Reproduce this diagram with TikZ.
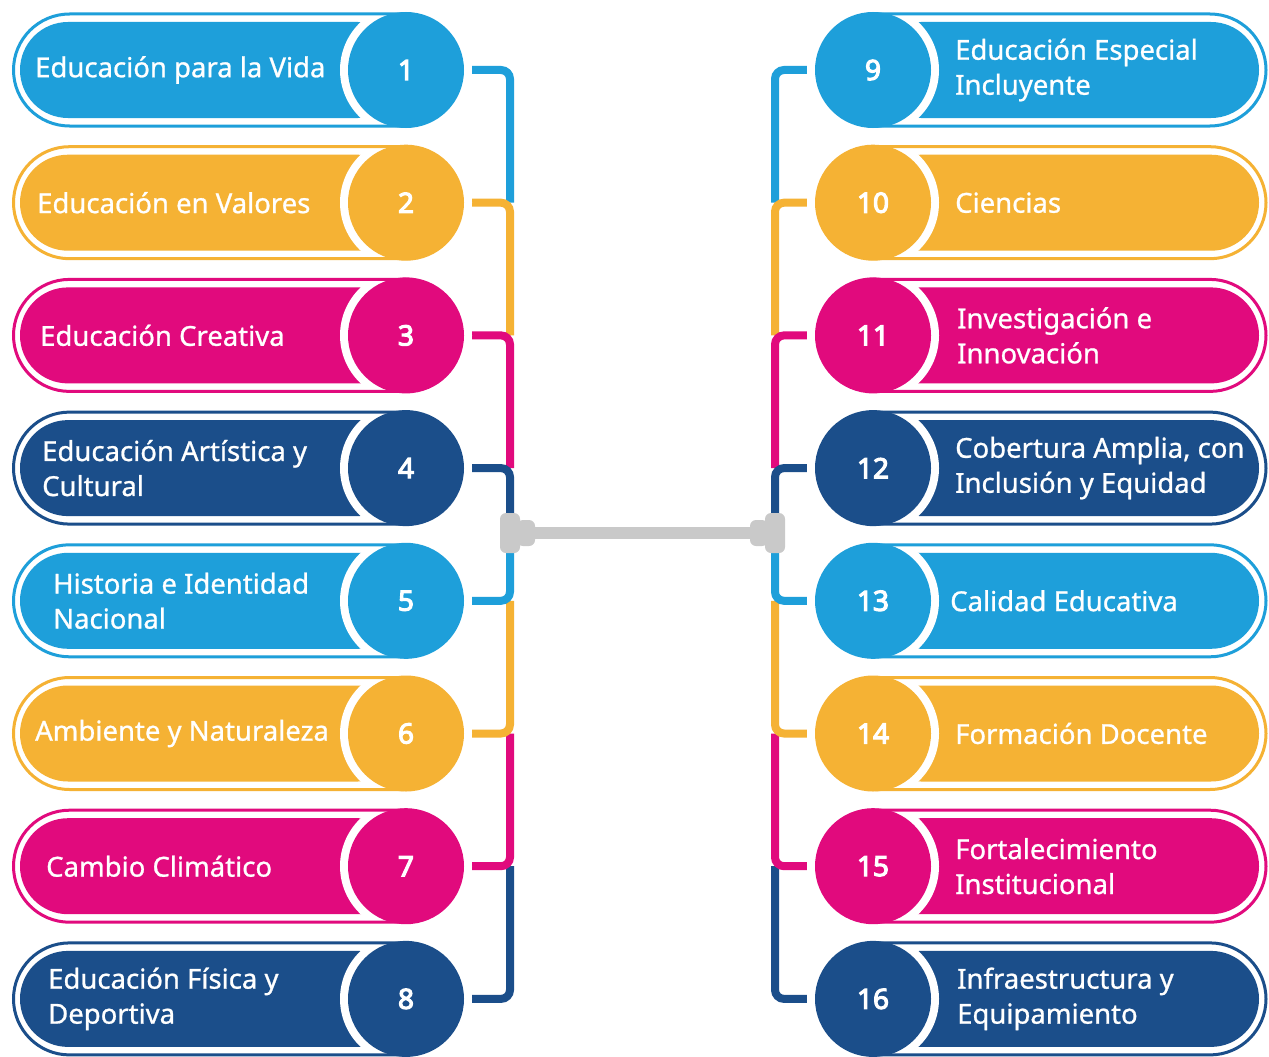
\documentclass[tikz,border=0pt]{standalone}
\usepackage{fontspec}
\setmainfont{Noto Sans}
\newfontfamily\lblfont{Noto Sans}[FakeBold=0.9]
\newfontfamily\numfont{Noto Sans}[FakeBold=4]
\usetikzlibrary{backgrounds}
\definecolor{cLB}{HTML}{1E9FDA}
\definecolor{cOR}{HTML}{F5B234}
\definecolor{cPK}{HTML}{E10A7D}
\definecolor{cDB}{HTML}{1B4E8A}
\definecolor{cGR}{HTML}{C9C9C9}
\newcommand\LRow[5]{%
  \fill[#3, rounded corners=48pt] (20,#2-48) rectangle (406,#2+48);
  \fill[white] (406,#2) circle[radius=66pt];
  \draw[#3, line width=3pt, rounded corners=56pt] (13.5,#2-56) rectangle (460,#2+56);
  \node[numdisc=#3] (n#1) at (406,#2) {#1};
  \node[lbl, anchor=west] (t#1) at (#4,#2) {#5};
}
\newcommand\RRow[5]{%
  \fill[#3, rounded corners=48pt] (873,#2-48) rectangle (1259,#2+48);
  \fill[white] (873,#2) circle[radius=66pt];
  \draw[#3, line width=3pt, rounded corners=56pt] (819,#2-56) rectangle (1266,#2+56);
  \node[numdisc=#3] (n#1) at (873,#2) {#1};
  \node[lbl, anchor=west] (t#1) at (#4,#2) {#5};
}
\begin{document}
\begin{tikzpicture}[x=1pt,y=-1pt,
  numdisc/.style={circle, fill=#1, minimum size=116pt, inner sep=0pt, text=white,
    font=\numfont\fontsize{28}{30}\selectfont},
  lbl/.style={text=white, font=\lblfont\fontsize{27.5}{35}\selectfont, align=left, inner sep=0pt},
  conn/.style={draw=#1, line width=8pt, rounded corners=9pt},
  capbox/.style={rectangle, rounded corners=6pt, fill=cGR, minimum width=20pt, minimum height=40pt, inner sep=0pt},
  capbump/.style={rectangle, rounded corners=6pt, fill=cGR, minimum width=18pt, minimum height=26pt, inner sep=0pt},
]
\useasboundingbox (0,0) rectangle (1269,1057);
\begin{pgfonlayer}{background}
\fill[white] (0,0) rectangle (1269,1057);
\end{pgfonlayer}

\LRow{1}{70}{cLB}{35}{Educación para la Vida}
\LRow{2}{202.7}{cOR}{37}{Educación en Valores}
\LRow{3}{335.4}{cPK}{40}{Educación Creativa}
\LRow{4}{468.1}{cDB}{42}{Educación Artística y\\Cultural}
\LRow{5}{600.8}{cLB}{53}{Historia e Identidad\\Nacional}
\LRow{6}{733.5}{cOR}{35}{Ambiente y Naturaleza}
\LRow{7}{866.2}{cPK}{46}{Cambio Climático}
\LRow{8}{998.9}{cDB}{48}{Educación Física y\\Deportiva}

\RRow{9}{70}{cLB}{955}{Educación Especial\\Incluyente}
\RRow{10}{202.7}{cOR}{955}{Ciencias}
\RRow{11}{335.4}{cPK}{957}{Investigación e\\Innovación}
\RRow{12}{468.1}{cDB}{955}{Cobertura Amplia, con\\Inclusión y Equidad}
\RRow{13}{600.8}{cLB}{950}{Calidad Educativa}
\RRow{14}{733.5}{cOR}{955}{Formación Docente}
\RRow{15}{866.2}{cPK}{955}{Fortalecimiento\\Institucional}
\RRow{16}{998.9}{cDB}{957}{Infraestructura y\\Equipamiento}

\coordinate (jl2) at (510,202.7);
\coordinate (jl3) at (510,335.4);
\coordinate (jl4) at (510,468.1);
\coordinate (jl5) at (510,600.8);
\coordinate (jl6) at (510,733.5);
\coordinate (jl7) at (510,866.2);
\coordinate (jlc) at (510,533);
\coordinate (jr10) at (775,202.7);
\coordinate (jr11) at (775,335.4);
\coordinate (jr12) at (775,468.1);
\coordinate (jr13) at (775,600.8);
\coordinate (jr14) at (775,733.5);
\coordinate (jr15) at (775,866.2);
\coordinate (jrc) at (775,533);

\begin{pgfonlayer}{background}
\draw[conn=cLB] (n1.center) -| (jl2);
\draw[conn=cOR] (n2.center) -| (jl3);
\draw[conn=cPK] (n3.center) -| (jl4);
\draw[conn=cDB] (n4.center) -| (jlc);
\draw[conn=cDB] (n8.center) -| (jl7);
\draw[conn=cPK] (n7.center) -| (jl6);
\draw[conn=cOR] (n6.center) -| (jl5);
\draw[conn=cLB] (n5.center) -| (jlc);
\draw[conn=cLB] (n9.center) -| (jr10);
\draw[conn=cOR] (n10.center) -| (jr11);
\draw[conn=cPK] (n11.center) -| (jr12);
\draw[conn=cDB] (n12.center) -| (jrc);
\draw[conn=cDB] (n16.center) -| (jr15);
\draw[conn=cPK] (n15.center) -| (jr14);
\draw[conn=cOR] (n14.center) -| (jr13);
\draw[conn=cLB] (n13.center) -| (jrc);
\end{pgfonlayer}

\node[capbump] (bumpL) at (526,533) {};
\node[capbump] (bumpR) at (759,533) {};
\draw[cGR, line width=12pt] (bumpL) -- (bumpR);
\node[capbox] (capL) at (510,533) {};
\node[capbox] (capR) at (775,533) {};
\end{tikzpicture}
\end{document}
